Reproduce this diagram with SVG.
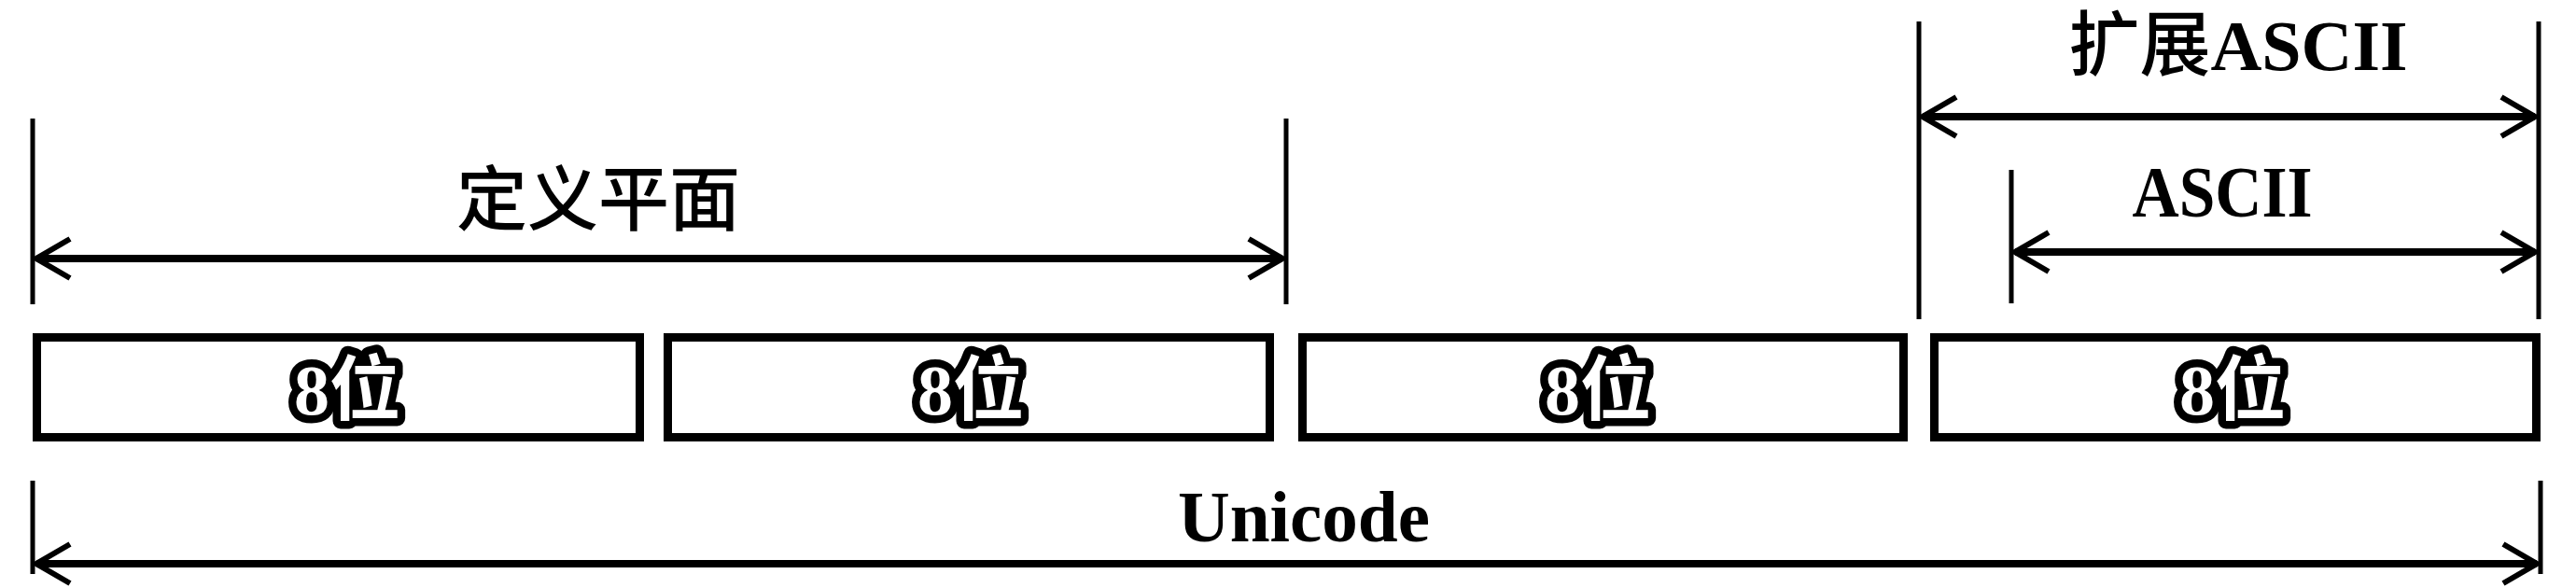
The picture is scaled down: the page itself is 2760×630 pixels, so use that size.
<svg xmlns="http://www.w3.org/2000/svg" width="2760" height="630" viewBox="0 0 2760 630">
<defs>
<style>
.ext{stroke:#000;stroke-width:5;fill:none}
.dim{stroke:#000;stroke-width:8;fill:none;marker-start:url(#ah);marker-end:url(#ah)}
.box{fill:#fff;stroke:#000;stroke-width:9}
.lbl{font-family:"Liberation Serif","Noto Sans CJK SC",serif;fill:#000;text-anchor:middle}
.bit{font-family:"Liberation Serif","Noto Sans CJK SC",serif;font-size:76px;font-weight:bold;fill:#fff;stroke:#000;stroke-width:17;stroke-linejoin:round;paint-order:stroke;text-anchor:middle}
</style>
<marker id="ah" viewBox="-42 -26 46 52" refX="0" refY="0" markerUnits="userSpaceOnUse" markerWidth="46" markerHeight="52" orient="auto-start-reverse">
<path d="M-36,-21 L0,0 L-36,21" fill="none" stroke="#000" stroke-width="6" stroke-linejoin="miter"/>
</marker>
</defs>
<g id="connectors">
<line class="ext" x1="35" y1="127" x2="35" y2="326"/>
<line class="ext" x1="1378" y1="127" x2="1378" y2="326"/>
<path class="dim" d="M39,277 L1374,277"/>
<line class="ext" x1="2056" y1="23" x2="2056" y2="342"/>
<line class="ext" x1="2720" y1="23" x2="2720" y2="342"/>
<path class="dim" d="M2060,125 L2716,125"/>
<line class="ext" x1="2155" y1="182" x2="2155" y2="325"/>
<path class="dim" d="M2159,270 L2716,270"/>
<line class="ext" x1="35" y1="515" x2="35" y2="615"/>
<line class="ext" x1="2722" y1="515" x2="2722" y2="615"/>
<path class="dim" d="M39,604 L2718,604"/>
</g>
<g id="label-plane"><text class="lbl" x="641" y="241" font-size="76" font-weight="500">定义平面</text></g>
<g id="label-extascii"><text class="lbl" x="2398" y="75" font-size="76" font-weight="500">扩展<tspan font-weight="bold">ASCII</tspan></text></g>
<g id="label-ascii"><text class="lbl" x="2381" y="232" font-size="78" font-weight="bold" textLength="193" lengthAdjust="spacingAndGlyphs">ASCII</text></g>
<g id="label-unicode"><text class="lbl" x="1397" y="580" font-size="78" font-weight="bold" textLength="270" lengthAdjust="spacingAndGlyphs">Unicode</text></g>
<g id="byte1"><rect class="box" x="39.5" y="361.5" width="646" height="107"/><text class="bit" x="372" y="444">8位</text></g>
<g id="byte2"><rect class="box" x="715.5" y="361.5" width="645" height="107"/><text class="bit" x="1040" y="444">8位</text></g>
<g id="byte3"><rect class="box" x="1395.5" y="361.5" width="644" height="107"/><text class="bit" x="1712" y="444">8位</text></g>
<g id="byte4"><rect class="box" x="2072.5" y="361.5" width="645" height="107"/><text class="bit" x="2392" y="444">8位</text></g>
</svg>
